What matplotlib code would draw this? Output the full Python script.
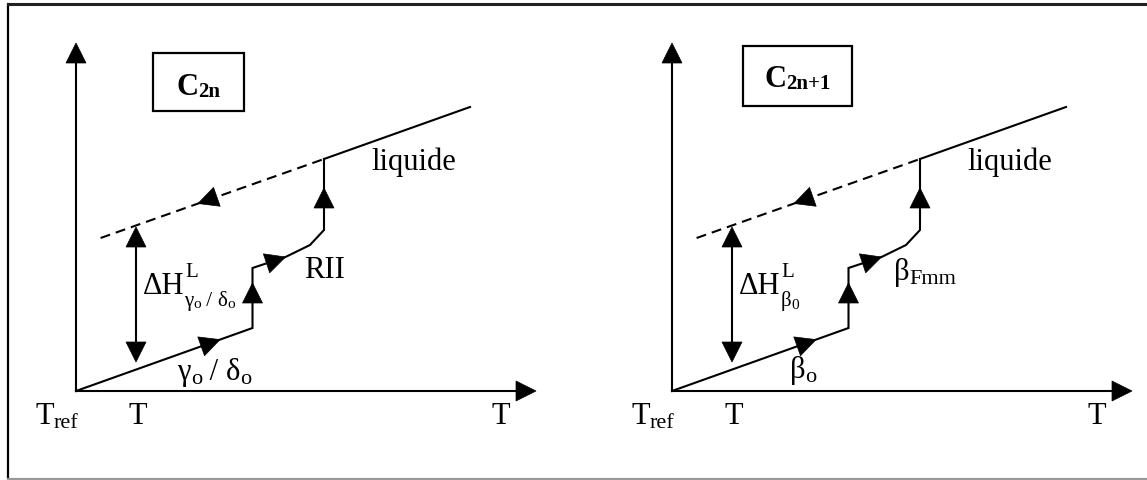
import matplotlib
matplotlib.use("Agg")
import matplotlib.pyplot as plt
from matplotlib.patches import Polygon, Rectangle
import numpy as np

plt.rcParams['font.family'] = ['Liberation Serif', 'DejaVu Serif']

W, H = 1147, 480

# ---- schematic data (T, H units) ----
path_T = [0, 176.5, 176.5, 209.5, 234, 248, 248]
path_H = [0, 63, 123, 134, 146, 161, 232]
liquid_T = [248, 394]
liquid_H = [232, 284]
undercooled_T = [24.6, 248]
undercooled_H = [153, 232]
dH_T = 60
dH_bottom, dH_top = 29, 164
axis_T_max = 460
axis_H_max = 348
# arrow tips along the path: (T, H, segment start index for direction)
arrow_tips = [(144, 51.4, 0), (176.5, 108, 1), (209.5, 134, 2), (248, 203, 5)]
dashed_tip = (122, 187.5)

panel_titles = [("C", "2n"), ("C", "2n+1")]

fig = plt.figure(figsize=(W / 100, H / 100), dpi=100)

# frame
fa = fig.add_axes([0, 0, 1, 1])
fa.set_xlim(0, W)
fa.set_ylim(H, 0)
fa.axis('off')
fa.plot([8, 8], [4, 478], color='black', lw=1.6)
fa.plot([8, W], [4, 4], color='#222222', lw=2.2)
fa.plot([8, W], [478.5, 478.5], color='#999999', lw=1.6)

renderer = fig.canvas.get_renderer()

ALEN, AHW = 20, 10


def head(ax, tip, d):
    d = np.asarray(d, float)
    d = d / np.hypot(*d)
    p = np.array([-d[1], d[0]])
    tip = np.asarray(tip, float)
    b = tip - ALEN * d
    ax.add_patch(Polygon([tip, b + AHW * p, b - AHW * p], closed=True,
                         facecolor='black', edgecolor='black', lw=0.5,
                         clip_on=False, zorder=5))


def rich(ax, x, y, pieces, ha='left'):
    """pieces: (text, size, dy, weight)"""
    arts = []
    cx = x
    for s, size, dy, wt in pieces:
        t = ax.text(cx, y + dy, s, fontsize=size, fontweight=wt,
                    va='baseline', ha='left', clip_on=False)
        bb = t.get_window_extent(renderer)
        cx += bb.width
        arts.append(t)
    if ha == 'center':
        tot = cx - x
        for t in arts:
            px, py = t.get_position()
            t.set_position((px - tot / 2, py))
    return cx


def panel(x0pix, kind):
    ax = fig.add_axes([(x0pix - 76) / W, 0, 596 / W, 1])
    ax.set_xlim(-76, 520)
    ax.set_ylim(-89, 391)
    ax.axis('off')
    lw = 1.5
    # axes
    ax.plot([0, 0], [0, axis_H_max - ALEN], color='black', lw=lw)
    ax.plot([0, axis_T_max - ALEN], [0, 0], color='black', lw=lw)
    head(ax, (0, axis_H_max), (0, 1))
    head(ax, (axis_T_max, 0), (1, 0))
    # path
    ax.plot(path_T, path_H, color='black', lw=lw, solid_joinstyle='miter')
    ax.plot(liquid_T, liquid_H, color='black', lw=lw)
    ax.plot(undercooled_T, undercooled_H, color='black', lw=lw,
            dashes=(4.8, 2.9))
    for tx, ty, i in arrow_tips:
        d = (path_T[i + 1] - path_T[i], path_H[i + 1] - path_H[i])
        head(ax, (tx, ty), d)
    d = (undercooled_T[0] - undercooled_T[1], undercooled_H[0] - undercooled_H[1])
    head(ax, dashed_tip, d)
    # double arrow
    ax.plot([dH_T, dH_T], [dH_bottom + ALEN, dH_top - ALEN], color='black', lw=lw)
    head(ax, (dH_T, dH_top), (0, 1))
    head(ax, (dH_T, dH_bottom), (0, -1))

    # axis labels
    rich(ax, -41, -33, [("T", 22, 0, 'normal'), ("ref", 16, -4, 'normal')])
    ax.text(62, -33, "T", fontsize=22, ha='center', va='baseline')
    ax.text(425, -33, "T", fontsize=22, ha='center', va='baseline')
    ax.text(295.5, 221, "liquide", fontsize=22, ha='left', va='baseline')

    if kind == 0:
        ax.add_patch(Rectangle((77, 280), 91, 58, fill=False, lw=1.6,
                               edgecolor='black', clip_on=False))
        rich(ax, 122.5, 296, [("C", 22, 0, 'bold'), ("2n", 15, -2, 'bold')],
             ha='center')
        ax.text(228, 113, "RII", fontsize=22, ha='left', va='baseline')
        e = rich(ax, 67, 97, [("ΔH", 22, 0, 'normal')])
        ax.text(e + 1, 114, "L", fontsize=15, va='baseline')
        rich(ax, e, 85, [("γ", 15, 0, 'normal'), ("o", 11, -2, 'normal'),
                         (" / ", 15, 0, 'normal'), ("δ", 15, 0, 'normal'),
                         ("o", 11, -2, 'normal')])
        rich(ax, 101.5, 11, [("γ", 22, 0, 'normal'), ("o", 16, -4, 'normal'),
                             (" / ", 22, 0, 'normal'), ("δ", 22, 0, 'normal'),
                             ("o", 16, -4, 'normal')])
    else:
        ax.add_patch(Rectangle((71, 285), 109, 60, fill=False, lw=1.6,
                               edgecolor='black', clip_on=False))
        rich(ax, 125.5, 304, [("C", 22, 0, 'bold'), ("2n+1", 15, -2, 'bold')],
             ha='center')
        rich(ax, 222, 111, [("β", 22, 0, 'normal'), ("Fmm", 16, -4, 'normal')])
        e = rich(ax, 67, 97, [("ΔH", 22, 0, 'normal')])
        ax.text(e + 1, 114, "L", fontsize=15, va='baseline')
        rich(ax, e, 85, [("β", 15, 0, 'normal'), ("0", 11, -3, 'normal')])
        rich(ax, 118, 13, [("β", 22, 0, 'normal'), ("o", 16, -4, 'normal')])
    return ax


panel(76, 0)
panel(672, 1)

fig.savefig("out.png", dpi=100)
